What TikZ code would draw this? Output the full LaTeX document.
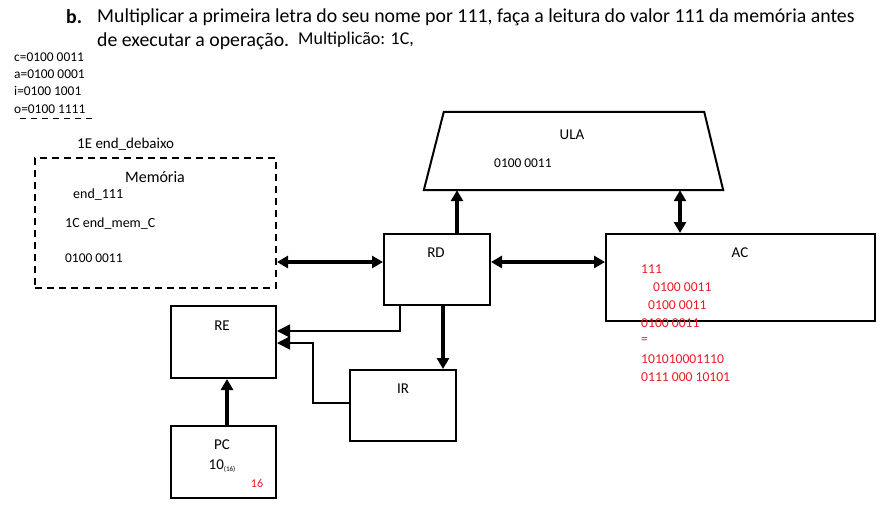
\documentclass[tikz,border=0pt]{standalone}
\usepackage{fontspec}
\setmainfont{Carlito}
\usetikzlibrary{arrows.meta}
\definecolor{notared}{RGB}{232,28,36}

\begin{document}
\begin{tikzpicture}[x=1pt,y=-1pt,
  bloco/.style={draw,line width=2pt,inner sep=0pt},
  rotulo/.style={inner sep=0pt,font=\fontsize{15}{17}\selectfont},
  miudo/.style={anchor=west,inner sep=0pt,font=\fontsize{13.4}{15}\selectfont},
  nota/.style={anchor=west,inner sep=0pt,text=notared,font=\fontsize{13.6}{15}\selectfont},
  grosso/.style={line width=3.2pt,-{Triangle[length=11pt,width=12pt]}},
  grossodup/.style={line width=3.2pt,{Triangle[length=11pt,width=12pt]}-{Triangle[length=11pt,width=12pt]}},
  fino/.style={line width=1.5pt,-{Triangle[length=13pt,width=13pt]}}]
  \useasboundingbox (0,0) rectangle (896,523);

  \node[anchor=west,inner sep=0pt,font=\bfseries\fontsize{19.8}{22}\selectfont] (item) at (66,17) {b.};
  \node[anchor=west,inner sep=0pt,font=\fontsize{19.8}{22}\selectfont] (linha1) at (97,17) {Multiplicar a primeira letra do seu nome por 111, faça a leitura do valor 111 da memória antes};
  \node[anchor=west,inner sep=0pt,font=\fontsize{19.8}{22}\selectfont] (linha2) at (97,41) {de executar a operação.};
  \node[anchor=west,inner sep=0pt,font=\fontsize{18}{21}\selectfont] (mult) at (298,40) {Multiplicão: 1C,};

  \node[miudo] (letc) at (14,57) {c=0100 0011};
  \node[miudo] (leta) at (14,74) {a=0100 0001};
  \node[miudo] (leti) at (14,91) {i=0100 1001};
  \node[miudo] (leto) at (14,109) {o=0100 1111};
  \draw[line width=0.8pt,dash pattern=on 6pt off 5pt] (20,118) -- (93,118);

  \node[miudo,font=\fontsize{15}{17}\selectfont] (debaixo) at (77,144) {1E end\_debaixo};
  \node[draw,line width=2pt,dash pattern=on 7pt off 5pt,minimum width=241pt,minimum height=130pt,inner sep=0pt] (mem) at (155.5,223) {};
  \node[rotulo,font=\fontsize{16}{18}\selectfont] (memtit) at (155,177) {Memória};
  \node[miudo,font=\fontsize{14}{16}\selectfont] (end111) at (73,195) {end\_111};
  \node[miudo,font=\fontsize{14}{16}\selectfont] (endc) at (65,224) {1C end\_mem\_C};
  \node[miudo] (memval) at (65,258) {0100 0011};

  \node[minimum width=299pt,minimum height=78pt,inner sep=0pt] (ula) at (573.5,151) {};
  \draw[line width=2pt,line join=miter] (ula.south west) -- ([xshift=20pt]ula.north west) -- ([xshift=-19pt]ula.north east) -- (ula.south east) -- cycle;
  \node[rotulo] (ulatit) at (572,135) {ULA};
  \node[miudo] (ulaval) at (494,163) {0100 0011};

  \node[bloco,minimum width=106pt,minimum height=71pt] (rd) at (437,269.5) {};
  \node[rotulo] (rdtit) at (436,253) {RD};
  \node[bloco,minimum width=269pt,minimum height=87pt] (ac) at (740.5,277.5) {};
  \node[rotulo] (actit) at (740,253) {AC};
  \node[nota] (ac1) at (641,269) {111};
  \node[nota] (ac2) at (653,287) {0100 0011};
  \node[nota] (ac3) at (648,305) {0100 0011};
  \node[nota] (ac4) at (641,323) {0100 0011};
  \node[nota] (ac5) at (641,341) {=};
  \node[nota] (ac6) at (641,359) {101010001110};
  \node[nota] (ac7) at (641,377) {0111 000 10101};

  \node[bloco,minimum width=105pt,minimum height=72pt] (re) at (223.5,342) {};
  \node[rotulo] (retit) at (222,326) {RE};
  \node[bloco,minimum width=106pt,minimum height=71pt] (ir) at (403,405.5) {};
  \node[rotulo] (irtit) at (403,389) {IR};
  \node[bloco,minimum width=105pt,minimum height=72pt] (pc) at (223.5,462) {};
  \node[rotulo] (pctit) at (222,445) {PC};
  \node[rotulo] (pcval) at (222,466) {10{\fontsize{7}{8}\selectfont\raisebox{-2pt}{(16)}}};
  \node[nota,anchor=center,font=\fontsize{12}{14}\selectfont] (pcnota) at (257,483) {16};

  \draw[grossodup] ([yshift=7.5pt]rd.west -| mem.east) -- ([yshift=7.5pt]rd.west);
  \draw[grossodup] ([yshift=7.5pt]rd.east) -- ([yshift=7.5pt]rd.east -| ac.west);
  \draw[grosso] ([xshift=20pt]rd.north) -- ([xshift=20pt]rd.north |- ula.south);
  \draw[grossodup] ([xshift=-60.5pt]ac.north) -- ([xshift=-60.5pt]ac.north |- ula.south);
  \draw[grosso] ([xshift=6pt]rd.south) -- ([xshift=6pt]rd.south |- ir.north);
  \draw[fino] ([xshift=-37pt]rd.south) |- ([yshift=11pt]re.east);
  \draw[fino] ([yshift=2.5pt]ir.west) -- ++(-36pt,0) |- ([yshift=-1pt]re.east);
  \draw[grosso] ([xshift=3.5pt]pc.north) -- ([xshift=3.5pt]re.south);
\end{tikzpicture}
\end{document}
